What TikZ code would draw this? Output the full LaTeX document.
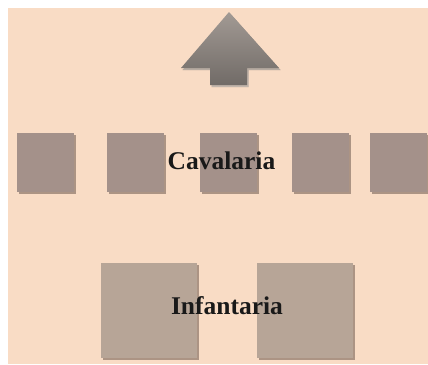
\documentclass[tikz,border=0pt]{standalone}
\usepackage{fontspec}
\setmainfont{Liberation Serif}
\usetikzlibrary{shadows}
\definecolor{bgpeach}{HTML}{F9DCC5}
\definecolor{cavbox}{HTML}{A4918A}
\definecolor{infbox}{HTML}{B7A597}
\definecolor{arrtop}{HTML}{A29A94}
\definecolor{arrbot}{HTML}{716B67}
\definecolor{shade}{HTML}{6E5A50}
\tikzset{
  unit/.style={draw=none, inner sep=0pt, outer sep=0pt, anchor=north west,
    drop shadow={shadow xshift=1.5pt, shadow yshift=-2pt, fill=shade, opacity=0.55}},
  cav/.style={unit, fill=cavbox, minimum width=57pt, minimum height=59pt},
  inf/.style={unit, fill=infbox, minimum width=96pt, minimum height=95pt},
  lbl/.style={font=\fontsize{25.5}{28}\selectfont\bfseries, text=black!90, inner sep=0pt}
}
\begin{document}
\begin{tikzpicture}[x=1pt, y=-1pt]
\fill[white] (0,0) rectangle (428,364);
\fill[bgpeach] (8,8) rectangle (428,364);
\useasboundingbox (0,0) rectangle (428,364);
% arrow
\fill[shade, opacity=0.35] (230.5,14) -- (280.5,70) -- (248.5,70) -- (248.5,87) -- (211.5,87) -- (211.5,70) -- (182.5,70) -- cycle;
\shade[top color=arrtop, bottom color=arrbot] (229,12) -- (279,68) -- (247,68) -- (247,85) -- (210,85) -- (210,68) -- (181,68) -- cycle;
% cavalaria
\begin{scope}
\clip (8,8) rectangle (428,364);
\node[cav] (c1) at (17,133) {};
\node[cav] (c2) at (107,133) {};
\node[cav] (c3) at (200,133) {};
\node[cav] (c4) at (292,133) {};
\node[cav] (c5) at (370,133) {};
\end{scope}
\node[lbl] (cavt) at (221.5,161) {Cavalaria};
% infantaria
\node[inf] (i1) at (101,263) {};
\node[inf] (i2) at (257,263) {};
\node[lbl] (inft) at (227,306) {Infantaria};
\end{tikzpicture}
\end{document}
